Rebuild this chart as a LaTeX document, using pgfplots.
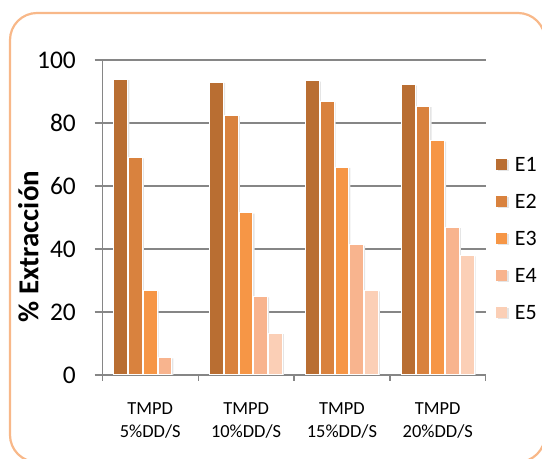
\documentclass[border=0pt]{standalone}
\usepackage{fontspec}
\setmainfont{Carlito}
\usepackage{pgfplots}
\pgfplotsset{compat=1.18}

\definecolor{eone}{RGB}{185,110,50}
\definecolor{etwo}{RGB}{217,130,62}
\definecolor{ethree}{RGB}{246,150,70}
\definecolor{efour}{RGB}{248,180,142}
\definecolor{efive}{RGB}{251,207,182}
\definecolor{gridgray}{RGB}{134,134,134}
\definecolor{framecol}{RGB}{248,184,137}

\pgfplotsset{
  stagebar/.style={ybar, bar width=13.7bp, fill=#1, draw=white, line width=1bp,
    preaction={fill=black!10, draw=none, transform canvas={shift={(1.6bp,-0.8bp)}}}},
}

\begin{document}
\begin{tikzpicture}[x=1bp,y=1bp]
\useasboundingbox (0,0) rectangle (542,459);
\draw[framecol, line width=2.2bp, rounded corners=27bp] (10,-3) rectangle (545,446);
\begin{axis}[
  at={(102.3bp,84bp)}, anchor=south west, scale only axis,
  width=383.4bp, height=315bp,
  xmin=-0.5, xmax=3.5, ymin=0, ymax=100,
  axis x line*=bottom, axis y line*=left,
  axis line style={gridgray, line width=1.3bp},
  ymajorgrids, grid style={gridgray, line width=1.3bp},
  ytick={0,20,...,100},
  tick align=outside,
  major tick length=7.7bp,
  ytick style={gridgray, line width=1.3bp},
  /pgf/number format/assume math mode=true,
  yticklabel style={font=\fontsize{25.5}{30}\selectfont, inner sep=0pt, anchor=east, xshift=-18.6bp},
  xtick={0,1,2,3},
  xticklabels={{TMPD\\5\%DD/S},{TMPD\\10\%DD/S},{TMPD\\15\%DD/S},{TMPD\\20\%DD/S}},
  xtick style={draw=none},
  xticklabel style={font=\fontsize{18.5}{23.3}\selectfont, align=center, inner sep=0pt, anchor=north, yshift=-20bp},
  extra x ticks={-0.5,0.5,1.5,2.5,3.5},
  extra x tick labels={},
  extra x tick style={xtick style={draw=gridgray, line width=1.3bp}, major tick length=6bp},
  ylabel={\textbf{\% Extracción}},
  every axis y label/.style={at={(axis description cs:-0.167,0.408)}, rotate=90, anchor=base, font=\fontsize{29}{34}\selectfont},
  legend style={at={(axis description cs:1.0269,0.433)}, anchor=west, draw=none, fill=none,
    inner sep=0pt, font=\fontsize{22}{26}\selectfont, row sep=23.5bp,
    nodes={inner sep=0pt, text height=13.6bp, text depth=0bp},
    /tikz/every odd column/.append style={column sep=8bp}},
  legend cell align=left,
  legend image code/.code={\fill[#1, draw=none] (0bp,-5.35bp) rectangle (10.7bp,5.35bp);},
]
% E1 .. E5, one series per extraction stage
\addplot[stagebar=eone, bar shift=-29.4bp]
  coordinates {(0,93.9) (1,93.0) (2,93.4) (3,92.1)};
\addplot[stagebar=etwo, bar shift=-14.7bp]
  coordinates {(0,69.0) (1,82.4) (2,86.8) (3,85.3)};
\addplot[stagebar=ethree, bar shift=0bp]
  coordinates {(0,26.8) (1,51.5) (2,66.0) (3,74.3)};
\addplot[stagebar=efour, bar shift=14.7bp]
  coordinates {(0,5.5) (1,24.9) (2,41.3) (3,46.9)};
\addplot[stagebar=efive, bar shift=29.4bp]
  coordinates {(1,13.2) (2,26.8) (3,37.9)};
\legend{E1,E2,E3,E4,E5}
\end{axis}
\end{tikzpicture}
\end{document}
